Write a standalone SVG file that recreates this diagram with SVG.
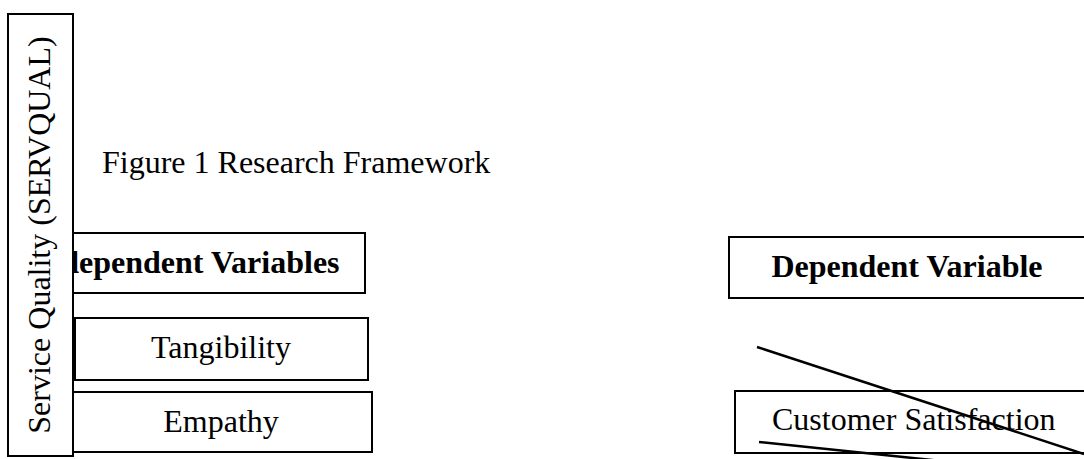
<svg xmlns="http://www.w3.org/2000/svg" width="1084" height="459" viewBox="0 0 1084 459">
  <style>
    .box { fill: #ffffff; stroke: #000000; stroke-width: 2; }
    .txt { font-family: "Liberation Serif", "Times New Roman", serif; font-size: 32px; fill: #000000; }
    .bold { font-weight: bold; }
    .mid { text-anchor: middle; }
    .line { stroke: #000000; stroke-width: 2.5; fill: none; }
  </style>
  <rect width="1084" height="459" fill="#ffffff"/>

  <!-- caption -->
  <text class="txt" x="102" y="173">Figure 1 Research Framework</text>

  <!-- left column -->
  <g id="independent-variables">
    <rect class="box" x="20" y="233" width="345" height="60"/>
    <text class="txt bold" x="31" y="273">Independent Variables</text>
  </g>
  <g id="tangibility">
    <rect class="box" x="75" y="318" width="293" height="62"/>
    <text class="txt mid" x="221" y="358">Tangibility</text>
  </g>
  <g id="empathy">
    <rect class="box" x="73" y="392" width="299" height="60"/>
    <text class="txt mid" x="221" y="432">Empathy</text>
  </g>
  <g id="service-quality">
    <rect class="box" x="8" y="14" width="65" height="442"/>
    <text class="txt mid" transform="translate(50 235) rotate(-90)">Service Quality (SERVQUAL)</text>
  </g>

  <!-- right column -->
  <g id="dependent-variable">
    <rect class="box" x="729" y="237" width="370" height="61"/>
    <text class="txt bold mid" x="907" y="277">Dependent Variable</text>
  </g>
  <g id="customer-satisfaction">
    <rect class="box" x="735" y="391" width="370" height="62"/>
    <text class="txt" x="772" y="430">Customer Satisfaction</text>
  </g>

  <!-- connectors -->
  <g id="connectors">
    <line class="line" x1="757" y1="347" x2="1084" y2="454"/>
    <line class="line" x1="759" y1="442" x2="980" y2="465"/>
  </g>
</svg>
